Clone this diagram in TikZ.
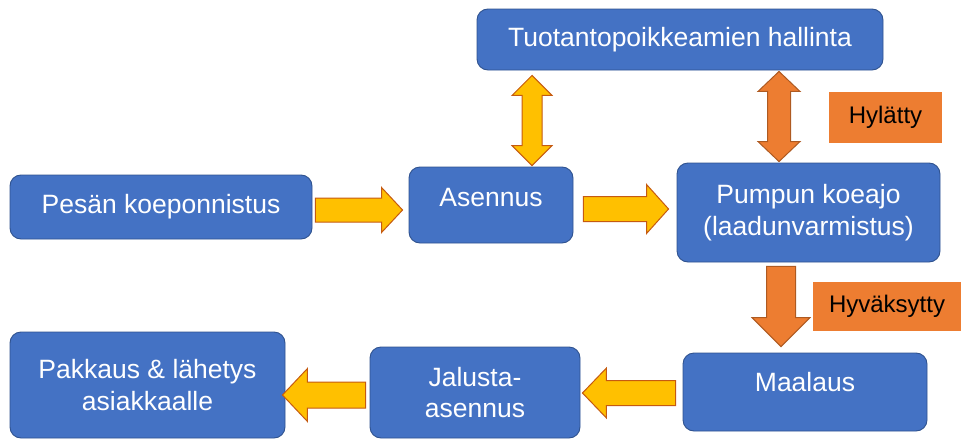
\documentclass[tikz,border=0pt]{standalone}
\usepackage{fontspec}
\setmainfont{Liberation Sans}
\usetikzlibrary{calc}

\definecolor{boxblue}{RGB}{68,114,196}
\definecolor{boxedge}{RGB}{47,82,143}
\definecolor{flowyellow}{RGB}{255,192,0}
\definecolor{yellowedge}{RGB}{197,90,17}
\definecolor{floworange}{RGB}{237,125,49}
\definecolor{orangeedge}{RGB}{174,90,33}

% Horizontal block arrow: #1 style, #2 tail point, #3 tip (x only),
% #4 half shaft width, #5 half head width, #6 head length
\newcommand\hblockarrow[6]{%
  \draw[#1] let \p1=(#2), \p2=(#3), \n1={sign(\x2-\x1)}, \n2={\x2-\n1*#6} in
    (\x1,{\y1+#4}) -- (\n2,{\y1+#4}) -- (\n2,{\y1+#5}) -- (\x2,\y1)
    -- (\n2,{\y1-#5}) -- (\n2,{\y1-#4}) -- (\x1,{\y1-#4}) -- cycle;}

% Vertical block arrow, same arguments (tip uses y only)
\newcommand\vblockarrow[6]{%
  \draw[#1] let \p1=(#2), \p2=(#3), \n1={sign(\y2-\y1)}, \n2={\y2-\n1*#6} in
    ({\x1+#4},\y1) -- ({\x1+#4},\n2) -- ({\x1+#5},\n2) -- (\x1,\y2)
    -- ({\x1-#5},\n2) -- ({\x1-#4},\n2) -- ({\x1-#4},\y1) -- cycle;}

% Vertical two-headed block arrow
\newcommand\vdblockarrow[6]{%
  \draw[#1] let \p1=(#2), \p2=(#3), \n1={sign(\y2-\y1)},
      \n2={\y1+\n1*#6}, \n3={\y2-\n1*#6} in
    (\x1,\y1) -- ({\x1+#5},\n2) -- ({\x1+#4},\n2) -- ({\x1+#4},\n3)
    -- ({\x1+#5},\n3) -- (\x1,\y2) -- ({\x1-#5},\n3) -- ({\x1-#4},\n3)
    -- ({\x1-#4},\n2) -- ({\x1-#5},\n2) -- cycle;}

\tikzset{
  stage/.style={draw=boxedge, line width=0.9pt, fill=boxblue, rounded corners=11pt,
    text=white, align=center, inner sep=0pt, font=\fontsize{26.5}{31.8}\selectfont},
  tag/.style={fill=floworange, text=black, inner sep=0pt, font=\fontsize{24}{28}\selectfont},
  yarrow/.style={fill=flowyellow, draw=yellowedge, line width=1pt, line join=miter},
  oarrow/.style={fill=floworange, draw=orangeedge, line width=1pt, line join=miter},
}

\begin{document}
\begin{tikzpicture}[x=1pt,y=-1pt]
\useasboundingbox (0,0) rectangle (961,439);

% process stages
\node[stage, minimum width=302pt, minimum height=64pt] (pesa) at (161,207) {Pesän koeponnistus};
\node[stage, minimum width=164pt, minimum height=76pt] (asennus) at (491,205)
  {\raisebox{7pt}[\height][\depth]{Asennus}};
\node[stage, minimum width=406pt, minimum height=61pt] (tuot) at (680,39.5) {Tuotantopoikkeamien hallinta};
\node[stage, minimum width=263pt, minimum height=99pt] (pumppu) at (808.5,212.5) {Pumpun koeajo\\(laadunvarmistus)};
\node[stage, minimum width=244pt, minimum height=78pt] (maalaus) at (805,392)
  {\raisebox{10pt}[\height][\depth]{Maalaus}};
\node[stage, minimum width=210pt, minimum height=91pt] (jalusta) at (475,392.5) {Jalusta-\\asennus};
\node[stage, minimum width=275pt, minimum height=106pt] (pakkaus) at (147.5,385) {Pakkaus \& lähetys\\asiakkaalle};

% outcome tags
\node[tag, minimum width=113pt, minimum height=51pt] (hylatty) at (885.5,117.5) {Hylätty};
\node[tag, minimum width=148pt, minimum height=49pt] (hyvaksytty) at (887,306.5) {Hyväksytty};

% flow arrows
\hblockarrow{yarrow}{$(pesa.east)+(3,3)$}{$(asennus.west)+(-6,0)$}{12pt}{22.5pt}{21pt}
\hblockarrow{yarrow}{$(asennus.east)+(10,4)$}{$(pumppu.west)+(-8,0)$}{12.5pt}{24.5pt}{22pt}
\vdblockarrow{yarrow}{$(asennus.north)+(41,-1)$}{$(tuot.south)+(0,5)$}{10pt}{20pt}{20pt}
\vdblockarrow{oarrow}{$(pumppu.north)+(-29.5,-1)$}{$(tuot.south)+(0,1)$}{11.5pt}{21pt}{20pt}
\vblockarrow{oarrow}{$(pumppu.south)+(-27.5,4)$}{$(maalaus.north)+(0,-6)$}{14.5pt}{29pt}{29pt}
\hblockarrow{yarrow}{$(maalaus.west)+(-7,1)$}{$(jalusta.east)+(2,0)$}{12.5pt}{25pt}{24pt}
\hblockarrow{yarrow}{$(jalusta.west)+(-4,2.5)$}{$(pakkaus.east)+(-3,0)$}{13pt}{26.5pt}{25pt}
\end{tikzpicture}
\end{document}
